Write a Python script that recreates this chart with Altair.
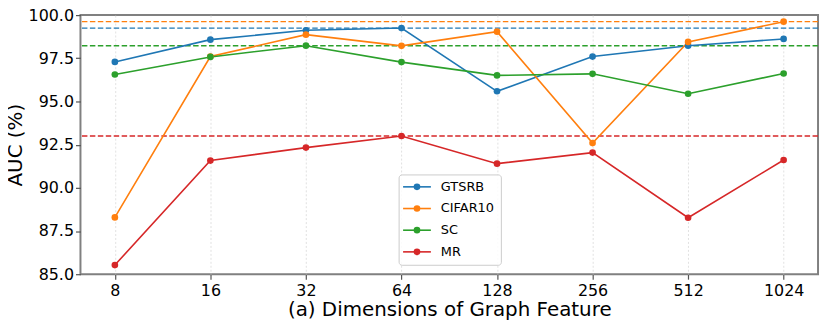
import altair as alt
import pandas as pd

dims = ["8", "16", "32", "64", "128", "256", "512", "1024"]
gtsrb = [97.29, 98.58, 99.12, 99.25, 95.59, 97.60, 98.23, 98.62]
cifar10 = [88.29, 97.60, 98.87, 98.22, 99.04, 92.59, 98.45, 99.62]
sc = [96.56, 97.58, 98.23, 97.28, 96.51, 96.60, 95.45, 96.62]
mr = [85.53, 91.58, 92.33, 93.00, 91.40, 92.04, 88.27, 91.61]
series = ["GTSRB", "CIFAR10", "SC", "MR"]
colors = ["#1f77b4", "#ff7f0e", "#2ca02c", "#d62728"]
y_ticks = [85.0, 87.5, 90.0, 92.5, 95.0, 97.5, 100.0]

rows = []
for name, vals in zip(series, [gtsrb, cifar10, sc, mr]):
    for d, v in zip(dims, vals):
        rows.append({"dim": d, "auc": v, "series": name})
df = pd.DataFrame(rows)
leg_df = pd.DataFrame({"series": series})
box_df = pd.DataFrame({"k": [0]})

color_scale = alt.Scale(domain=series, range=colors)
x_enc = alt.X("dim:N", sort=dims, scale=alt.Scale(type="point", padding=0.36),
              axis=alt.Axis(title="(a) Dimensions of Graph Feature", labelAngle=0,
                            grid=True, gridDash=[2, 2], gridColor="#d9d9d9",
                            gridWidth=0.8, labelPadding=3, titlePadding=2))
y_scale = alt.Scale(domain=[85, 100], nice=False, zero=False)
y_enc = alt.Y("auc:Q", scale=y_scale,
              axis=alt.Axis(title="AUC (%)", values=y_ticks, format=".1f", grid=False,
                            labelPadding=2, titlePadding=3))

lines = alt.Chart(df).mark_line(strokeWidth=1.6).encode(
    x=x_enc, y=y_enc,
    stroke=alt.Stroke("series:N", scale=color_scale, legend=None)
)
points = alt.Chart(df).mark_circle(size=45, opacity=1).encode(
    x=alt.X("dim:N", sort=dims),
    y=alt.Y("auc:Q", scale=y_scale, axis=None),
    fill=alt.Fill("series:N", scale=color_scale, legend=None)
)
rules = alt.Chart(df).transform_aggregate(
    best="max(auc)", groupby=["series"]
).mark_rule(strokeDash=[5.5, 2.5], strokeWidth=1.4).encode(
    y=alt.Y("best:Q", scale=y_scale, axis=None),
    stroke=alt.Stroke("series:N", scale=color_scale, legend=None)
)

# legend (drawn as marks, rows placed by a point scale)
leg_y = alt.Y("series:N", sort=series, axis=None,
              scale=alt.Scale(type="point", domain=series, range=[173, 238.5], padding=0))
leg_box = alt.Chart(box_df).mark_rect(
    fill="white", fillOpacity=0.85, stroke="#cccccc", strokeWidth=1, cornerRadius=3
).encode(x=alt.value(321), x2=alt.value(424), y=alt.value(161), y2=alt.value(252))
leg_line = alt.Chart(leg_df).mark_rule(strokeWidth=1.6).encode(
    x=alt.value(325), x2=alt.value(353), y=leg_y,
    stroke=alt.Stroke("series:N", scale=color_scale, legend=None)
)
leg_dot = alt.Chart(leg_df).mark_circle(size=45, opacity=1).encode(
    x=alt.value(339), y=leg_y,
    fill=alt.Fill("series:N", scale=color_scale, legend=None)
)
leg_text = alt.Chart(leg_df).mark_text(
    align="left", baseline="middle", font="DejaVu Sans", fontSize=13, color="#000"
).encode(x=alt.value(363), y=leg_y, text="series:N")

chart = alt.layer(rules, lines, points, leg_box, leg_line, leg_dot, leg_text).resolve_scale(
    y="independent"
).properties(
    width=743, height=261,
    autosize=alt.AutoSizeParams(type="none"),
    padding={"left": 73, "top": 6, "right": 4, "bottom": 50}
).configure_view(
    stroke="#808080", strokeWidth=2
).configure_axis(
    labelFont="DejaVu Sans", titleFont="DejaVu Sans",
    labelFontSize=16, titleFontSize=20, labelColor="#000", titleColor="#000",
    titleFontWeight="normal", domain=False, tickColor="#555555", tickSize=5,
    tickWidth=1.2
)

chart.save("out.html", embed_options={"renderer": "svg", "actions": False})
